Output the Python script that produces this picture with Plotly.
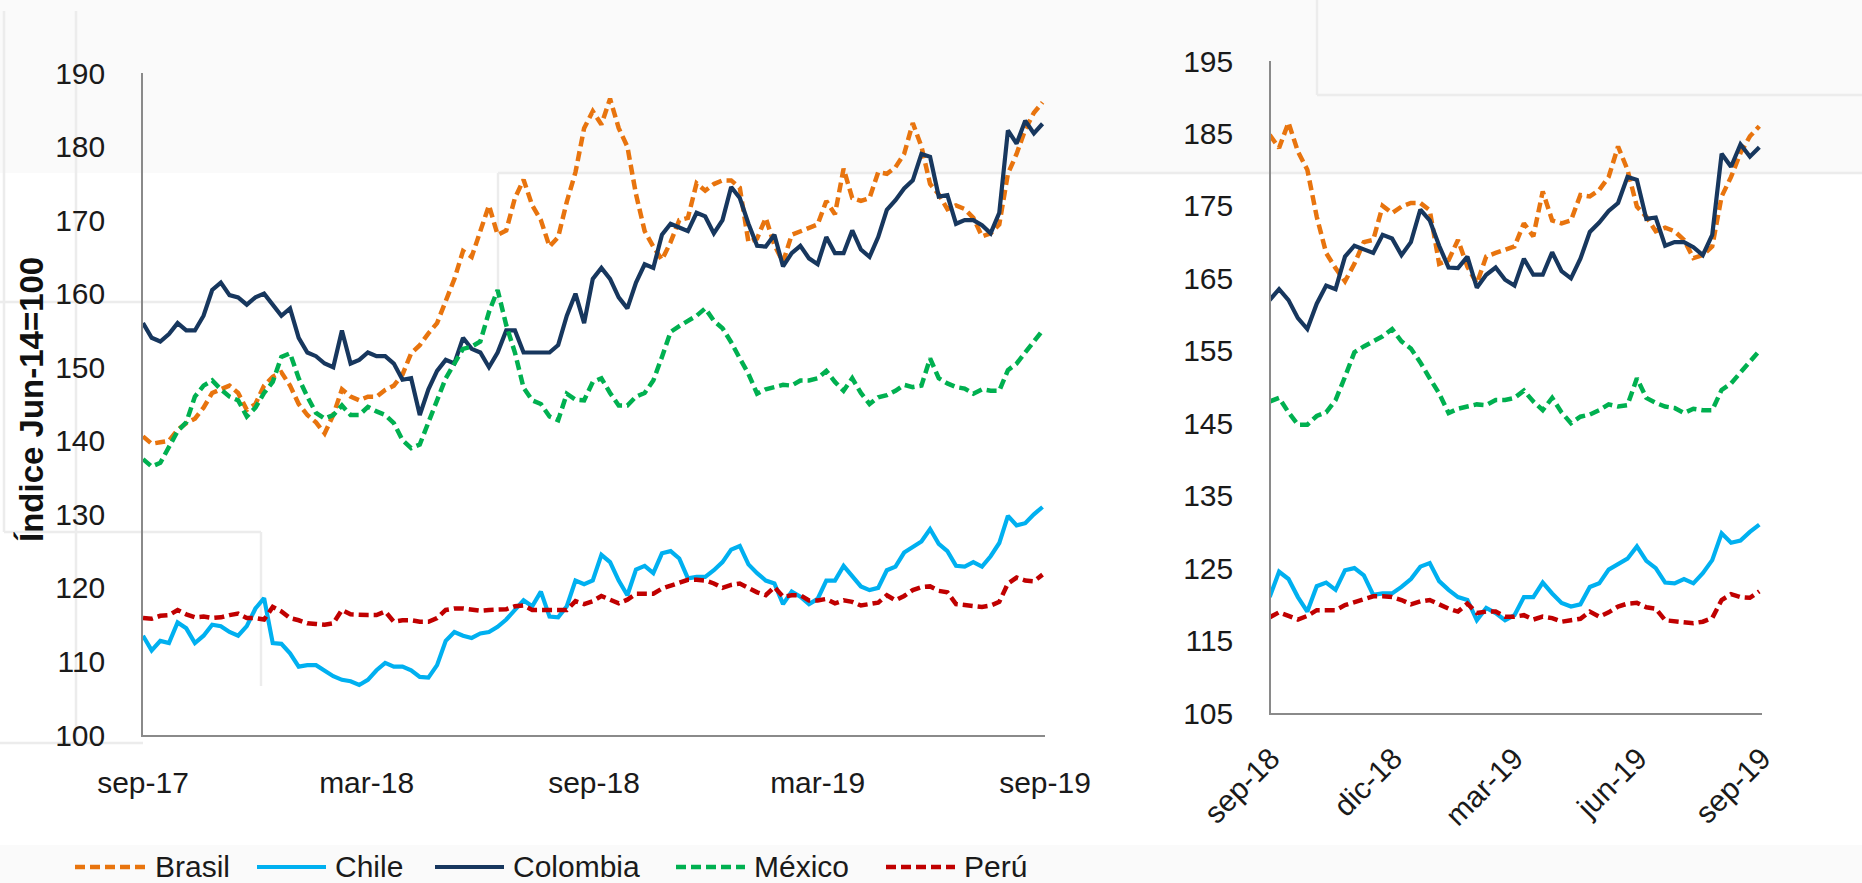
import pandas as pd
import plotly.graph_objects as go

# ---------------- data (weekly readings, index Jun-14 = 100) ----------------
dates = pd.date_range("2017-09-01", periods=105, freq="7D")

brasil = [140.6, 139.6, 139.8, 140.0, 141.5, 142.4, 143.0, 144.5, 146.5, 147.0,
          147.5, 146.5, 144.2, 145.0, 147.5, 148.7, 149.3, 147.5, 145.0, 143.5,
          142.5, 141.0, 143.5, 147.0, 146.0, 145.5, 146.0, 146.0, 146.9, 147.5,
          149.0, 151.9, 153.0, 154.6, 156.0, 159.0, 162.0, 165.8, 165.0, 168.5,
          172.0, 168.0, 168.6, 173.0, 175.5, 172.0, 170.0, 166.4, 167.7, 172.5,
          176.5, 182.5, 184.8, 183.0, 186.5, 182.5, 180.0, 173.5, 168.5, 166.4,
          164.6, 167.0, 170.0, 170.3, 175.0, 174.0, 174.9, 175.4, 175.4, 174.4,
          167.0, 167.5, 170.3, 166.6, 164.3, 168.0, 168.5, 169.0, 169.4, 172.6,
          170.8, 177.0, 173.0, 172.6, 173.0, 176.5, 176.3, 177.2, 179.0, 183.2,
          180.0, 174.9, 173.5, 171.5, 172.0, 171.5, 170.3, 167.8, 168.2, 169.4,
          176.3, 179.0, 182.3, 184.6, 186.0]

chile = [113.5, 111.5, 112.8, 112.5, 115.3, 114.5, 112.5, 113.5, 115.0, 114.8,
         114.0, 113.5, 114.8, 117.2, 118.6, 112.5, 112.4, 111.1, 109.3, 109.5,
         109.5, 108.8, 108.0, 107.5, 107.3, 106.8, 107.5, 108.8, 109.8, 109.3,
         109.3, 108.8, 107.9, 107.8, 109.5, 112.8, 114.0, 113.5, 113.2, 113.8,
         114.0, 114.7, 115.7, 117.0, 118.3, 117.5, 119.5, 116.1, 116.0, 117.5,
         121.0, 120.5, 121.0, 124.5, 123.5, 121.0, 119.0, 122.5, 123.0, 122.0,
         124.7, 125.0, 124.0, 121.3, 121.5, 121.5, 122.4, 123.5, 125.2, 125.7,
         123.2, 122.0, 121.0, 120.6, 117.8, 119.5, 118.8, 117.8, 118.5, 121.0,
         121.0, 123.0, 121.5, 120.2, 119.7, 120.0, 122.4, 122.9, 124.8, 125.5,
         126.3, 128.0, 126.0, 125.0, 123.0, 122.9, 123.5, 122.9, 124.3, 126.1,
         129.8, 128.5, 128.8, 130.0, 131.0]

colombia = [156.0, 154.0, 153.5, 154.5, 156.0, 155.0, 155.0, 157.0, 160.5, 161.5,
            159.8, 159.5, 158.5, 159.5, 160.0, 158.5, 157.0, 158.0, 154.0, 152.0,
            151.5, 150.5, 150.0, 155.0, 150.5, 151.0, 152.0, 151.5, 151.5, 150.5,
            148.3, 148.5, 143.5, 147.0, 149.5, 151.0, 150.5, 154.0, 152.5, 152.0,
            150.0, 152.0, 155.0, 155.0, 152.0, 152.0, 152.0, 152.0, 153.0, 157.0,
            160.0, 156.0, 162.0, 163.5, 162.0, 159.5, 158.0, 161.5, 164.0, 163.5,
            168.0, 169.5, 169.0, 168.5, 171.0, 170.5, 168.2, 170.0, 174.5, 173.0,
            169.5, 166.5, 166.4, 168.0, 163.7, 165.5, 166.5, 164.8, 164.0, 167.7,
            165.5, 165.5, 168.6, 166.0, 165.0, 167.7, 171.4, 172.7, 174.3, 175.4,
            179.0, 178.6, 173.2, 173.4, 169.5, 170.0, 170.0, 169.3, 168.2, 171.0,
            182.2, 180.4, 183.5, 181.8, 183.1]

mexico = [137.5, 136.5, 137.0, 139.0, 141.3, 142.5, 146.0, 147.5, 148.2, 147.0,
          146.0, 145.5, 143.3, 144.5, 146.5, 148.0, 151.4, 151.9, 148.5, 146.0,
          143.8, 143.0, 143.5, 144.8, 143.5, 143.5, 144.6, 144.0, 143.5, 142.4,
          140.1, 139.0, 139.5, 142.5, 145.5, 148.5, 150.5, 152.5, 152.8, 153.5,
          157.5, 160.5, 155.7, 152.0, 147.2, 145.5, 145.0, 143.3, 142.8, 146.4,
          145.6, 145.5, 148.0, 148.5, 146.5, 144.8, 144.8, 146.0, 146.5, 148.2,
          151.4, 154.8, 155.6, 156.3, 157.0, 158.0, 156.3, 155.3, 153.4, 151.2,
          149.1, 146.4, 147.0, 147.3, 147.6, 147.5, 148.2, 148.2, 148.5, 149.5,
          148.0, 146.8, 148.5, 146.5, 145.0, 145.9, 146.2, 146.8, 147.6, 147.3,
          147.5, 151.2, 148.5, 147.8, 147.3, 147.1, 146.4, 147.0, 146.8, 146.8,
          149.6, 150.5, 152.0, 153.7, 155.0]

peru = [115.9, 115.8, 116.2, 116.3, 117.0, 116.4, 116.0, 116.1, 115.9, 116.0,
        116.3, 116.5, 115.9, 115.9, 115.7, 117.4, 116.8, 115.9, 115.6, 115.2,
        115.1, 115.0, 115.2, 117.0, 116.4, 116.3, 116.3, 116.3, 116.8, 115.4,
        115.6, 115.6, 115.4, 115.4, 115.9, 117.0, 117.2, 117.2, 117.0, 116.9,
        117.0, 117.0, 117.1, 117.5, 117.6, 117.0, 117.0, 116.9, 116.9, 117.0,
        118.2, 117.8, 118.2, 118.9, 118.4, 117.9, 118.4, 119.2, 119.2, 119.2,
        119.9, 120.3, 120.8, 121.1, 121.1, 121.0, 120.6, 120.0, 120.4, 120.6,
        120.0, 119.4, 119.0, 120.1, 118.8, 119.0, 119.0, 118.3, 118.3, 118.5,
        117.9, 118.3, 118.1, 117.6, 117.8, 118.0, 119.0, 118.3, 118.9, 119.7,
        120.1, 120.2, 119.6, 119.4, 117.8, 117.7, 117.6, 117.4, 117.6, 118.1,
        120.6, 121.4, 121.0, 120.9, 121.8]

names = ["Brasil", "Chile", "Colombia", "México", "Perú"]
values = [brasil, chile, colombia, mexico, peru]

left_ticks = ["2017-09-01", "2018-03-01", "2018-09-01", "2019-03-01", "2019-09-01"]
left_labels = ["sep-17", "mar-18", "sep-18", "mar-19", "sep-19"]
right_ticks = ["2018-09-01", "2018-12-01", "2019-03-01", "2019-06-01", "2019-09-01"]
right_labels = ["sep-18", "dic-18", "mar-19", "jun-19", "sep-19"]
y_title = "Índice Jun-14=100"

# ---------------- styles ----------------
W, H = 1862, 883
colors = ["#E8740E", "#00B0F0", "#17375E", "#00B050", "#C00000"]
dashes = ["10px,5px", "solid", "solid", "10px,5px", "10px,5px"]
widths = [4.5, 4.2, 4.2, 4.5, 4.5]
FONT = "Liberation Sans, Arial, sans-serif"
TXT = "#1a1a1a"
AX = "#8a8a8a"


def px(x):
    return x / W


def py(y):
    return 1 - y / H


fig = go.Figure()
right_start = 52
for n, v, c, d, w in zip(names, values, colors, dashes, widths):
    fig.add_trace(go.Scatter(x=dates, y=v, mode="lines", name=n,
                             line=dict(color=c, dash=d, width=w),
                             xaxis="x", yaxis="y", showlegend=False))
for n, v, c, d, w in zip(names, values, colors, dashes, widths):
    fig.add_trace(go.Scatter(x=dates[right_start:], y=v[right_start:], mode="lines", name=n,
                             line=dict(color=c, dash=d, width=w),
                             xaxis="x2", yaxis="y2", showlegend=False))

axis_common = dict(showline=True, linecolor=AX, linewidth=1.5, showgrid=False,
                   zeroline=False, ticks="", automargin=False,
                   tickfont=dict(family=FONT, size=30, color=TXT))

fig.update_layout(
    template="none",
    width=W, height=H, autosize=False,
    margin=dict(l=0, r=0, t=0, b=0, pad=0, autoexpand=False),
    paper_bgcolor="#ffffff", plot_bgcolor="rgba(0,0,0,0)",
    font=dict(family=FONT, color=TXT),
    showlegend=False,
    xaxis=dict(domain=[px(143), px(1045)], anchor="y", type="date",
               range=["2017-09-01", "2019-09-01"], tickvals=left_ticks, ticktext=left_labels,
               ticklabelstandoff=20, **axis_common),
    yaxis=dict(domain=[py(735), py(73)], anchor="x", range=[100, 190], dtick=10,
               ticklabelstandoff=30, **axis_common),
    xaxis2=dict(domain=[px(1271), px(1762)], anchor="y2", type="date",
                range=["2018-09-01", "2019-09-01"], tickvals=right_ticks, ticktext=right_labels,
                tickangle=-45, ticklabelstandoff=14, **axis_common),
    yaxis2=dict(domain=[py(713), py(61)], anchor="x2", range=[105, 195], tick0=105, dtick=10,
                ticklabelstandoff=30, **axis_common),
)

# faint background artefacts of the original slide
bg_line = dict(color="#ececec", width=2.5)
BAND = "#fafafa"
shapes = [
    dict(type="rect", xref="paper", yref="paper", x0=0, x1=1, y0=py(173), y1=1,
         fillcolor=BAND, line=dict(width=0), layer="below"),
    dict(type="rect", xref="paper", yref="paper", x0=0, x1=1, y0=0, y1=py(845),
         fillcolor=BAND, line=dict(width=0), layer="below"),
    dict(type="line", xref="paper", yref="paper", x0=px(498), x1=1, y0=py(173), y1=py(173), line=bg_line, layer="below"),
    dict(type="line", xref="paper", yref="paper", x0=px(498), x1=px(498), y0=py(173), y1=py(302), line=bg_line, layer="below"),
    dict(type="line", xref="paper", yref="paper", x0=0, x1=px(498), y0=py(302), y1=py(302), line=bg_line, layer="below"),
    dict(type="line", xref="paper", yref="paper", x0=px(76), x1=px(76), y0=py(11), y1=py(743), line=bg_line, layer="below"),
    dict(type="line", xref="paper", yref="paper", x0=px(4), x1=px(4), y0=py(11), y1=py(532), line=bg_line, layer="below"),
    dict(type="line", xref="paper", yref="paper", x0=px(4), x1=px(261), y0=py(532), y1=py(532), line=bg_line, layer="below"),
    dict(type="line", xref="paper", yref="paper", x0=px(261), x1=px(261), y0=py(532), y1=py(686), line=bg_line, layer="below"),
    dict(type="line", xref="paper", yref="paper", x0=0, x1=px(143), y0=py(743), y1=py(743), line=bg_line, layer="below"),
    dict(type="line", xref="paper", yref="paper", x0=px(1317), x1=px(1317), y0=1, y1=py(95), line=bg_line, layer="below"),
    dict(type="line", xref="paper", yref="paper", x0=px(1317), x1=1, y0=py(95), y1=py(95), line=bg_line, layer="below"),
]

# custom legend (long line samples like the original)
legend_pos = [(75, 145, 153), (257, 326, 333), (435, 504, 511), (676, 745, 752), (886, 955, 962)]
annotations = []
LEG_Y = 867
for n, c, d, w, (x0, x1, xt) in zip(names, colors, dashes, widths, legend_pos):
    shapes.append(dict(type="line", xref="paper", yref="paper", x0=px(x0), x1=px(x1),
                       y0=py(LEG_Y), y1=py(LEG_Y), line=dict(color=c, width=w, dash=d)))
    annotations.append(dict(text=n, xref="paper", yref="paper", x=px(xt), y=py(LEG_Y - 1),
                            xanchor="left", yanchor="middle", showarrow=False,
                            font=dict(family=FONT, size=30, color=TXT)))

annotations.append(dict(text="<b>" + y_title + "</b>", xref="paper", yref="paper",
                        x=px(31), y=py(400), textangle=-90, showarrow=False,
                        xanchor="center", yanchor="middle",
                        font=dict(family=FONT, size=33, color="#111111")))

fig.update_layout(shapes=shapes, annotations=annotations)

fig.write_html("out.html", include_plotlyjs=True, config={"displayModeBar": False},
               post_script="document.body.style.margin='0';document.body.style.overflow='hidden';")
